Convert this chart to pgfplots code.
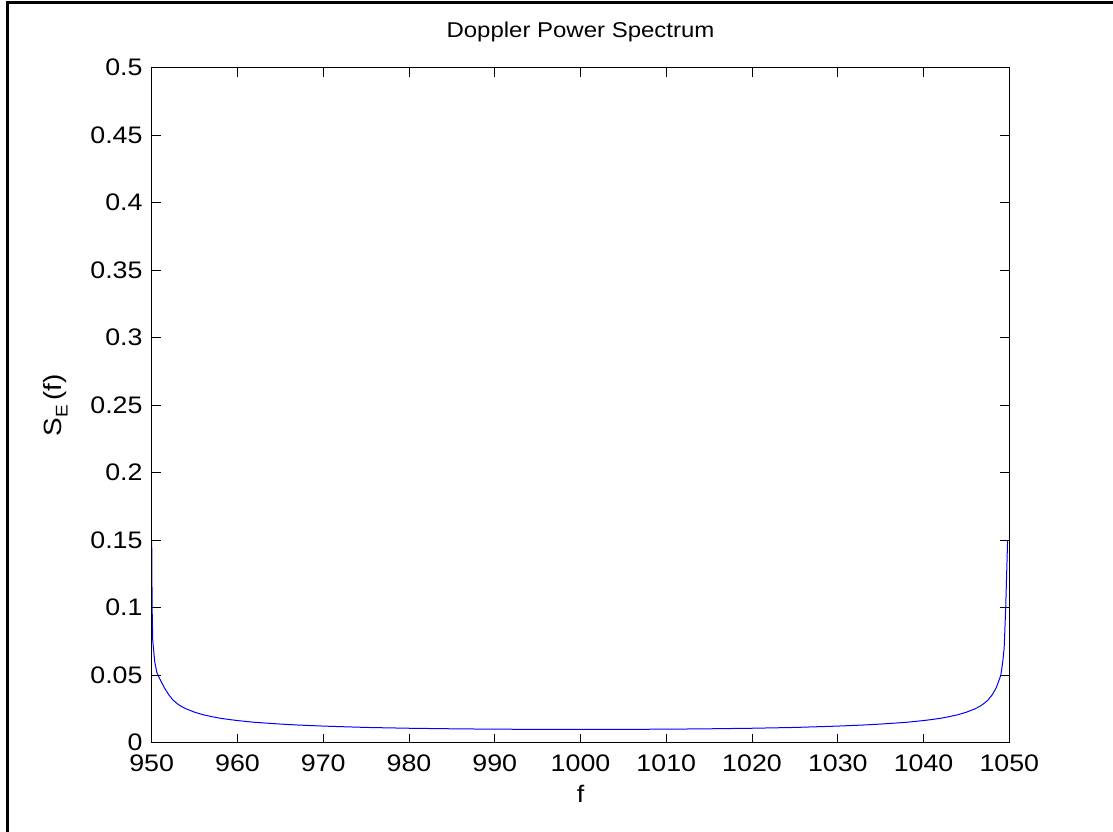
\documentclass[border=0pt]{standalone}
\usepackage{pgfplots}
\pgfplotsset{compat=1.18}
\usepackage{fontspec}
\setmainfont[FakeStretch=1.12]{Liberation Sans}
\begin{document}
\begin{tikzpicture}[x=1bp,y=1bp]
\path[use as bounding box] (0,0) rectangle (1113,832);
\draw[line width=3bp] (7,0) -- (7,829) -- (1113,829);
\begin{axis}[
  at={(151.7bp,89.3bp)}, anchor=south west,
  scale only axis, width=857.6bp, height=675bp,
  xmin=950, xmax=1050, ymin=0, ymax=0.5,
  xtick={950,960,970,980,990,1000,1010,1020,1030,1040,1050},
  xticklabels={950,960,970,980,990,1000,1010,1020,1030,1040,1050},
  ytick={0,0.05,0.1,0.15,0.2,0.25,0.3,0.35,0.4,0.45,0.5},
  yticklabels={0,0.05,0.1,0.15,0.2,0.25,0.3,0.35,0.4,0.45,0.5},
  scaled x ticks=false, scaled y ticks=false,
  tick pos=both, tick align=inside,
  xticklabel pos=lower, yticklabel pos=left,
  major tick length=9bp,
  tick style={line width=0.8bp, black},
  axis line style={line width=1bp},
  axis on top,
  ticklabel style={font=\fontsize{24}{28}\selectfont},
  xticklabel style={anchor=base, inner sep=0pt, yshift=-29bp},
  yticklabel style={anchor=east, inner sep=0pt, xshift=-9bp},
  title={Doppler Power Spectrum},
  title style={font=\fontsize{21.5}{25}\selectfont, at={(0.5,1)}, anchor=base, yshift=24bp},
  xlabel={f},
  xlabel style={font=\fontsize{24}{28}\selectfont, at={(0.5,0)}, anchor=base, yshift=-60bp},
  ylabel={S\raisebox{-0.45ex}{\fontsize{17}{20}\selectfont E}\,(f)},
  ylabel style={font=\fontsize{25}{29}\selectfont, at={(axis description cs:-0.105,0.5)}, anchor=base, rotate=0},
]
\addplot[color={rgb,1:red,0;green,0;blue,1}, line width=1bp] coordinates {
(950.0,0.15) (950.05,0.10) (950.12,0.076) (950.35,0.060) (950.6,0.052)
(951.0,0.0465) (951.5,0.0405) (952,0.0354) (952.5,0.0315) (953,0.0288)
(953.5,0.0267) (954,0.0251) (955,0.0226) (956,0.0207) (957,0.0193)
(958,0.0181) (959,0.0172) (960,0.0164) (962,0.0151) (965,0.0138)
(967,0.0131) (970,0.0123) (975,0.0113) (980,0.0107) (985,0.0103)
(990,0.0100) (995,0.0099) (1000,0.0099) (1005,0.0099) (1010,0.0100)
(1015,0.0103) (1020,0.0107) (1025,0.0113) (1030,0.0123) (1033,0.0131)
(1035,0.0138) (1038,0.0151) (1040,0.0164) (1041,0.0172) (1042,0.0181)
(1043,0.0193) (1044,0.0207) (1045,0.0226) (1046,0.0251) (1046.5,0.0267)
(1047,0.0288) (1047.5,0.0315) (1048,0.0354) (1048.5,0.0410) (1049,0.0498)
(1049.2,0.058) (1049.4,0.070) (1049.58,0.100) (1049.8,0.15)
};
\end{axis}
\end{tikzpicture}
\end{document}
